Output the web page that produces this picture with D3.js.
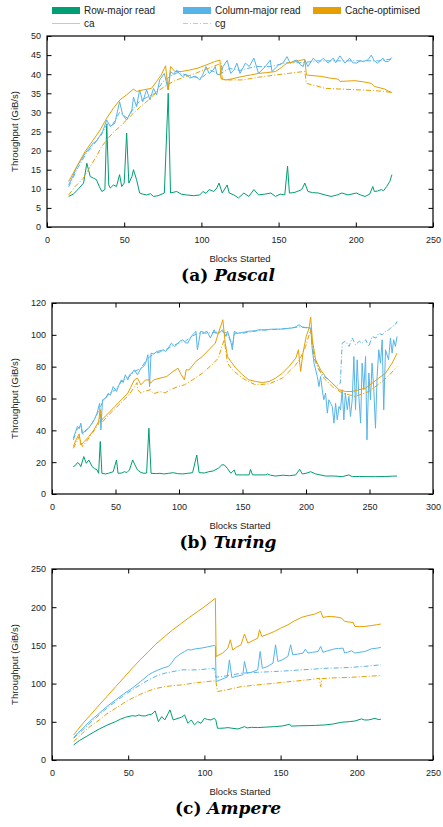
<!DOCTYPE html>
<html>
<head>
<meta charset="utf-8">
<script src="https://cdn.jsdelivr.net/npm/d3@7"></script>
<style>
  body { margin: 0; background: #fff; }
  svg { display: block; }
</style>
</head>
<body>
<script>
// ---- (a) Pascal : [blocks started, GiB/s] ----
const pascalRowCa = [[14,8.0],[17,8.6],[20,9.8],[23.7,11.5],[25.8,16.7],[28,13.2],[30,12.8],[32,12.4],[34,10.5],[35.5,9.3],[37.5,9.8],[38.7,27],[40,11],[41,10.2],[43,11],[45,10.6],[47,13.7],[48.4,10.6],[50,11.5],[51.6,24.6],[53,11.5],[55,13.2],[56,15],[58,12.4],[60,8.9],[62,8.6],[64.5,8.4],[67,8.7],[69,8],[72,8.2],[76,8.9],[78.5,35],[80,8.9],[84,9.3],[87,8.6],[90,8.4],[95,8.2],[99,8.4],[101,9.3],[103,8.8],[105,9.8],[108,9.3],[110,10.2],[111.4,11.5],[113.5,8.9],[116.7,11],[118,8.9],[121,8.4],[124,7.6],[127.5,8.9],[130.7,8],[134,9.8],[137,8.4],[141,8.6],[145,8.9],[148,8],[151,8.6],[154,8.4],[155.8,15.9],[157,8.9],[160,9],[162,9.3],[165,9.8],[167,11.5],[169,9.3],[172,9],[175.7,8.9],[180,8.4],[184,8],[188,8.4],[191,8.9],[195,8.4],[200.4,8.9],[203,8.4],[206,8],[209,8.6],[211,10.6],[212,9.3],[214,9.4],[216.5,9.8],[218,9.5],[220,10.6],[222,11.9],[223.4,13.7]];
const pascalColCa = [[14,11],[17,13.5],[19.4,15.9],[22,17.5],[24.7,19.3],[27,20.5],[30,22],[32,22.5],[34,23.7],[36,25],[38.7,28],[41,26.3],[44,27.2],[47,32.8],[49,29.4],[51.6,28],[55,30.7],[56,34],[58,31.5],[60,35.9],[62,32.8],[64.5,35.9],[66.7,33.3],[69,36.3],[71,34.6],[73,38.5],[76,40.2],[78.5,35.9],[80,40.7],[82,40],[84,41.1],[86,40],[88,39.4],[90,40],[92.5,39],[96,39.5],[99,38.5],[101,40],[103,42],[105,40.2],[107.5,41],[109,42],[110,40],[112.5,39.8],[114,42],[116.7,43.6],[119,40.2],[121,41],[123,42.9],[125,40.2],[128.5,42.9],[131,42],[134,44.2],[137,40.2],[141.4,42],[144.6,43.7],[145.7,40.7],[150,42.4],[153,43],[155.4,44.6],[157.5,42.9],[160,43.5],[162,43.7],[164,42.5],[166,42],[167,43.7],[169,42],[172.5,44.2],[175.7,42.9],[179,44.2],[182,42.9],[185.4,44.2],[187,43],[189.7,44.8],[193,42.9],[196,44.2],[198,43],[200.4,42.9],[203,43.5],[205,43.3],[208,43.8],[210,45],[212,43.5],[214,42.9],[217.6,44.2],[219,43.3],[221,43.3],[223.4,44.4]];
const pascalColCg = [[14,10.5],[20,15.5],[25,19],[30,21.5],[35,24],[39,27],[42,26.5],[47,30],[52,28.5],[56,31],[60,33],[65,34],[70,35],[75,38],[80,39.5],[85,40.5],[92,39.5],[100,39],[106,41],[112,40],[118,41.5],[125,41],[135,42],[145,42],[155,43],[165,43],[175,43.5],[190,43.5],[205,43.5],[215,43.5],[223.4,44]];
const pascalOptCa = [[14,11.9],[19.4,15.9],[24.7,19.8],[30,22.8],[34.4,25.4],[38.7,28.5],[43,31.1],[47.3,33.3],[51.6,34.6],[56,36.1],[58,35.5],[62.4,35.9],[67.7,36.3],[71,38.1],[74,39.8],[76.8,42.2],[78.5,35.9],[80,42],[82.8,40.7],[87,40.7],[92.5,41.1],[97.8,41.6],[103,42.4],[108.6,43.3],[112,43.7],[112.6,38.9],[115.7,38.5],[120,38.8],[126.4,39.4],[132,39.8],[137,40.2],[142,40.4],[148,40.7],[152,41.8],[155.4,42.9],[160,43.2],[164,43.6],[167,43.9],[168,39.8],[173,39.6],[178,39.4],[183,39],[188.6,38.7],[189.7,38.1],[194,38.2],[199.4,38.3],[205,38],[210,37.6],[212,36.8],[215,36.5],[218.7,36.1],[221,35.6],[223.4,35.2]];
const pascalOptCg = [[14,8.4],[18,10.5],[23.6,12.8],[28,15.8],[32,18.5],[35,20.8],[38.7,22.8],[43,24.8],[47.3,26.3],[52,28.2],[56,29.8],[60,31.3],[64.5,32.8],[69,34.5],[73,35.9],[77,37],[81.7,38.1],[86,38.8],[90,39.4],[95,40],[99,40.7],[103,41.3],[107.5,42],[113,42.9],[113.5,38.5],[120,38.5],[126.4,38.5],[137,39.2],[148,39.8],[156.4,40.2],[162,40.5],[167,40.7],[168,37.6],[174,37],[180,36.3],[191,36.1],[201.5,35.9],[212,35.7],[218,35.5],[223.4,35.2]];

// ---- (b) Turing ----
const turingRowCa = [[16.8,17.2],[18.5,18],[20,19.7],[21.5,19],[22.7,17.2],[25,23.5],[27,19.3],[29,21.4],[31.6,17.2],[33.5,16],[35.5,15.1],[36.7,13],[38,33],[39.3,13],[42,12.6],[44.4,13],[48.2,14],[50.8,21.4],[52,13],[55,13.2],[57,14],[59,13.5],[61,15.1],[63.5,21.4],[65.3,18.3],[67.3,15.1],[70,13.5],[72.4,13],[74.5,13.2],[76.3,41.3],[78,13],[82,12.8],[85,13],[88,12.6],[92,13],[95.4,13.4],[99,12.8],[103,12.6],[107,13],[110.7,13.4],[114,24.5],[115.8,13.4],[120,13.2],[123.5,14],[127,14.5],[131,16.2],[133.7,18.3],[135.6,18.3],[138,16.2],[140.8,13],[143.5,15.1],[144.8,12],[150,12],[155.2,12],[156.3,15.5],[157.9,12],[163,12],[168.3,12],[169.6,12.6],[172,11.8],[176,11.3],[182,11.8],[187,11.5],[191.9,12],[195,15.5],[197,12.6],[200,13],[203.7,14],[207.6,12.6],[211,12],[215.4,11.3],[222,11.3],[228.5,10.9],[233.8,12],[236.4,10.9],[242,11],[248,10.9],[254.7,10.9],[262,11],[268,11.2],[271.7,11.3]];
const turingColCa = [[16.8,35],[18.5,39],[20,42.4],[21.5,41],[22.7,44.5],[24,38.2],[27,40.3],[29,41.5],[31.6,44.5],[33.5,47],[35.5,50.8],[37.5,57],[38.5,40.3],[39.8,59.2],[42,60],[44.4,63.4],[46,62],[48.2,67.5],[50.8,64.4],[52.5,68],[54.6,71.7],[56,70],[57.7,74.9],[59.7,71.7],[61,74.9],[63,76],[64.8,78],[67.3,74.9],[70,79],[72,80],[73.7,82.2],[75.5,87.5],[76.8,67.5],[78,88.5],[80,88],[82.7,89.6],[85,90],[87.8,90.6],[89.5,89.5],[91.6,91.7],[94,94.8],[96.7,92.7],[98.5,94],[100.5,95.9],[103,96.9],[105,95],[106.9,94.8],[109,98],[110.7,100],[113.3,102.2],[114.5,90.6],[117,102.2],[120,101.5],[122,102.2],[124.7,98],[127.7,103.2],[128.6,101.1],[131.7,101.1],[134.3,103.2],[137,99],[138.2,102.2],[140.8,95.9],[142,90.6],[143.5,102.2],[146,101],[150,101.5],[155,102.3],[160,102.5],[163,103.2],[168,103],[172,103.5],[176,103.6],[180,103.6],[185,104],[189,104.3],[192,105],[194.5,106.4],[197,104.9],[200,104.6],[203.7,104.3],[205,90.6],[206.3,82.2],[208.9,73.8],[210.2,67.5],[211.5,73.8],[212.8,65.5],[214,59.2],[215.4,63.4],[216.8,50.8],[218,59.2],[219.4,57],[220.7,55],[222,44.5],[223.3,57],[224.6,46.6],[226,55],[227.2,52.9],[228.5,65.5],[229.8,46.6],[231,63.4],[232.5,52.9],[233.8,61.3],[235,48.7],[236.4,59.2],[237.7,86.4],[239,52.9],[240.3,84.3],[241.6,61.3],[243,44.5],[244.2,82.2],[245.5,65.5],[246.9,86.4],[248,34],[249.5,76],[250.8,59.2],[252,82.2],[253.4,65.5],[254.7,41.3],[256,73.8],[257.3,90.6],[258.6,82.2],[260,96.9],[261.2,52.9],[262.6,90.6],[265,84.3],[266.5,98],[267.8,88.5],[269,96.9],[270.4,92.7],[271.7,99]];
const turingColCg = [[16.8,34],[20,41],[22.7,43],[24,37],[28,41],[32,45],[36,51],[40,58],[45,63],[50,65.5],[55,71],[60,73],[65,77],[70,79],[75,85],[80,88],[88,90],[95,93],[100,95],[105,96],[110,99],[115,101],[120,101],[128,101.5],[134,102],[138,101],[142,93],[144,101],[150,101],[165,103],[180,103.5],[195,105],[204,104],[205,90.6],[207,84],[210,78],[214,74],[218,71.7],[223.3,67.5],[227,69.6],[228.5,94.8],[231,96],[234,92.7],[236.4,98],[239,93.8],[242,96],[244,94.8],[247,96.9],[249.5,92.7],[252,99],[255,98],[257.3,101.1],[260,100],[262.6,102.2],[265,103],[267.8,105.3],[270,106],[271.7,108.4]];
const turingOptCa = [[16.8,29.8],[18.9,34],[21.4,37.8],[22.7,30.8],[25.3,32.9],[29,36.1],[33,40.3],[36.7,45.5],[38,52.9],[39.3,46.6],[44.4,50.8],[49.5,55],[54.6,59.2],[59.7,63.4],[62,67],[64.8,71.7],[67.3,72.8],[70,68.6],[73.7,71.7],[76.3,71.7],[77.6,69.6],[80,71.7],[85,72.8],[90.3,73.8],[95.4,77],[99.2,79],[101.8,74.9],[104.3,71.7],[105.6,78],[108,78],[113.3,83.3],[118.4,86.4],[123.5,90.6],[128.6,94.8],[131,101.1],[133.7,107.4],[134.5,109.5],[136.4,94.8],[138.2,86.4],[140.8,83.3],[144.8,79],[150,74.9],[155,71.7],[160.5,70.7],[165.7,70],[171,70.7],[176,72.8],[181.4,75.9],[186.6,80.1],[192,85.4],[194,90.6],[195.8,77],[197.6,88.5],[200.2,99],[202.4,104.3],[203.7,111.2],[205,96.9],[207.6,84.3],[211.5,78],[215.4,73.8],[220.7,69.6],[226,65.5],[231,64.4],[236.4,64.4],[241.6,65.5],[246.9,66.5],[252,69.6],[257.3,72.8],[262.6,75.9],[267.8,82.2],[271.7,88.5]];
const turingOptCg = [[16.8,28.7],[19,32],[21.4,36.1],[24,29.8],[28,34],[32,38.5],[36.7,44],[38,50],[39.5,45],[44.4,49.5],[49.5,53.5],[54.6,57.5],[59.7,61.5],[64.8,67],[67,70],[67.3,65.5],[70,63.5],[72.4,64.4],[77.6,65.5],[80,63],[85,64.4],[89,63.5],[93,65.5],[99.2,67.5],[104.3,68.6],[110.7,71.7],[118.4,75.9],[126,81.2],[131,85.4],[133.5,92],[135.6,96.9],[138.2,82.2],[142,78],[150,72.8],[155,70.5],[160.5,68.6],[171,69.2],[181.4,72.8],[192,81.2],[196,86],[199.7,92.7],[203.7,103.2],[206.3,86.4],[212.8,73.8],[220.7,67.5],[228.5,63.4],[239,61.3],[249.5,64.4],[260,70.7],[266,75],[271.7,80.1]];

// ---- (c) Ampere ----
const ampereRowCa = [[14.2,19.7],[18,25.5],[22.4,30.6],[27,36],[31,40.6],[36,45.5],[41.8,50.3],[45,53.5],[48.3,56],[52.6,58],[55,57.5],[57,59],[59,57.8],[61.2,57.7],[63,59],[65.5,60],[67.7,64.2],[69.8,50.3],[72,56.8],[74,52.4],[76.3,61.2],[77.4,65.6],[79.5,52.4],[82.8,54.6],[85,56],[87,59],[89.2,48],[91.4,52.4],[93.5,46],[95.7,50.3],[97.8,48],[100,54.6],[102,53],[104.3,52.4],[106.5,54.6],[107.5,52],[108.6,41.5],[110,41.5],[113,41.8],[115.4,42.4],[118,41.6],[122,40.6],[124,42],[126.3,43.7],[128,42],[131,42.8],[135,42.4],[140,43],[146,43.7],[151,44.5],[156,46.8],[157,44.3],[162,44.8],[168,45],[173,45.3],[179,45.9],[184,47],[190,49.4],[195,50.2],[198.7,51],[203,53.8],[205,52.4],[207.5,52.4],[210,53.5],[212,54.6],[214,53],[215.8,53.3]];
const ampereColCa = [[14.2,29.3],[17,35.5],[20.3,41.5],[25,51],[31,61.2],[36,70],[41.8,78.7],[47,86.5],[52.6,94],[58,102.5],[63.4,111.5],[66,114.5],[69.8,118],[73,120.5],[76.3,122.4],[78.5,127],[80.6,133.3],[84,138.5],[87,142],[89,144.5],[91.4,144],[94,145.5],[97.8,146.4],[102,148],[106.5,150],[107.2,149],[107.7,102.7],[110,104.5],[113,107],[115,108.5],[116.4,131],[118,108],[121,109.5],[125.2,111.5],[126.3,129],[128,113.6],[131,115],[135,118],[136.6,142],[138,120],[141,122],[145,126.7],[146.7,150.8],[148.2,129],[151,131],[154.8,135.5],[156.6,150.8],[158,137.7],[161,138.5],[164.7,140],[166.2,145],[168,140],[171,141],[174.6,142],[176.3,148.6],[177.8,141],[181,143],[185.5,145.5],[188,146],[191,146.4],[192,140],[194,141],[196.5,143],[198.7,140],[202,141],[205.3,142],[209.6,145.5],[213,146.3],[215.8,147.3]];
const ampereColCg = [[14.2,28.4],[20,39],[25,48.5],[31,59],[36,68],[41.8,76.5],[47,84.5],[52.6,91.8],[58,98.5],[63.4,104.9],[68,109.5],[74,113.6],[80,116],[85,118],[90,118],[95.7,118],[101,119],[106.5,120],[107.5,108.5],[111,109],[117,111],[124,113.6],[135,114.8],[146,115.8],[155,116.8],[163.6,118],[172,119],[179,120],[187,120.5],[194.3,121],[205,122.5],[215.8,124.6]];
const ampereOptCa = [[14.2,32.8],[17,40],[20.3,48],[25,58.5],[31,72],[36,83],[41.8,96],[47,107.5],[52.6,120],[58,131.5],[63.4,142],[68,151.5],[74,161.7],[79,170],[85,179],[90,186.5],[95.7,194.5],[101,202],[106.5,210.7],[107.2,211.5],[107.7,135.5],[112,140],[115.4,146.4],[117,157.3],[118.6,144],[121,147.5],[124,150.8],[126.3,164.8],[128.5,153],[132,156.5],[135,159.5],[136.2,170.5],[137.7,161.7],[142,165],[146,168.3],[150,172.5],[154.8,177],[159,182],[163.6,186.6],[168,189],[172.4,191],[176.3,194.5],[177.8,186.6],[180,187.5],[183.3,188],[187,187],[190,185.8],[192,181.4],[195,180.5],[197.6,180],[198.7,174.8],[202,174.5],[205.3,174.8],[209.6,176],[213,177],[215.8,178]];
const ampereOptCg = [[14.2,24],[20,35],[25,44],[31,52.4],[36,60.5],[41.8,67.7],[47,74.5],[52.6,80.9],[58,86],[63.4,90.5],[68,93.5],[74,96],[80,97.5],[85,98.3],[90,99.8],[95.7,101.4],[101,102.5],[106.5,103.6],[107.5,103.8],[108.6,89.6],[115,92],[124,96],[135,98.3],[146,100.5],[157,102.8],[168,104.9],[175.6,107],[176,98],[176.4,96],[177,106.5],[185,107.5],[194.3,108],[205,109.3],[215.8,110.6]];

const legendNames = ['Row-major read', 'Column-major read', 'Cache-optimised'];
const colors = ['#009e73', '#56b4e9', '#e69f00'];
const dashCg = '5,2,1,2';

const W = 443, H = 827;
const svg = d3.select('body').append('svg')
  .attr('width', W)
  .attr('height', H)
  .style('font-family', '"Liberation Sans", Arial, sans-serif');

// legend
const legendX = [52, 183, 313];
legendNames.forEach((name, i) => {
  svg.append('rect')
    .attr('x', legendX[i]).attr('y', 7)
    .attr('width', 28).attr('height', 7)
    .attr('fill', colors[i]);
  svg.append('text')
    .attr('x', legendX[i] + 32).attr('y', 14)
    .attr('font-size', 10).attr('fill', '#222')
    .text(name);
});
[['ca', null], ['cg', dashCg]].forEach(([name, dash], i) => {
  svg.append('line')
    .attr('x1', legendX[i]).attr('x2', legendX[i] + 28)
    .attr('y1', 23.5).attr('y2', 23.5)
    .attr('stroke', '#c8c8c8').attr('stroke-width', 1)
    .attr('stroke-dasharray', dash);
  svg.append('text')
    .attr('x', legendX[i] + 32).attr('y', 27)
    .attr('font-size', 10).attr('fill', '#222')
    .text(name);
});

const panels = [
  { tag: '(a) ', name: 'Pascal', top: 36, left: 47, xMax: 250, yMax: 50, yStep: 5,
    series: [[pascalRowCa, 0, false], [pascalColCa, 1, false], [pascalColCg, 1, true], [pascalOptCa, 2, false], [pascalOptCg, 2, true]] },
  { tag: '(b) ', name: 'Turing', top: 303, left: 52, xMax: 300, yMax: 120, yStep: 20,
    series: [[turingRowCa, 0, false], [turingColCa, 1, false], [turingColCg, 1, true], [turingOptCa, 2, false], [turingOptCg, 2, true]] },
  { tag: '(c) ', name: 'Ampere', top: 569, left: 52, xMax: 250, yMax: 250, yStep: 50,
    series: [[ampereRowCa, 0, false], [ampereColCa, 1, false], [ampereColCg, 1, true], [ampereOptCa, 2, false], [ampereOptCg, 2, true]] }
];

const plotH = 191, right = 433, tick = 4.5;

panels.forEach((p) => {
  const bottom = p.top + plotH;
  const x = d3.scaleLinear().domain([0, p.xMax]).range([p.left, right]);
  const y = d3.scaleLinear().domain([0, p.yMax]).range([bottom, p.top]);
  const xTicks = d3.range(0, p.xMax + 1, 50);
  const yTicks = d3.range(0, p.yMax + 0.001, p.yStep);

  const g = svg.append('g');

  // axes with inward ticks, mirrored like gnuplot
  const ax = (axis, tr, labels) => {
    const a = g.append('g').attr('transform', tr)
      .call(axis.tickSize(-tick).tickPadding(labels ? 7 : 0).tickFormat(labels ? d3.format('d') : ''));
    a.select('.domain').remove();
    a.selectAll('line').attr('stroke', '#000');
    a.selectAll('text').attr('font-size', 9).attr('fill', '#222')
      .style('font-family', '"Liberation Sans", Arial, sans-serif');
    return a;
  };
  ax(d3.axisBottom(x).tickValues(xTicks), `translate(0,${bottom})`, true)
    .selectAll('text').attr('dy', null).attr('y', 15.5);
  ax(d3.axisTop(x).tickValues(xTicks), `translate(0,${p.top})`, false);
  ax(d3.axisLeft(y).tickValues(yTicks), `translate(${p.left},0)`, true)
    .selectAll('text').attr('x', -6);
  ax(d3.axisRight(y).tickValues(yTicks), `translate(${right},0)`, false);

  g.append('rect')
    .attr('x', p.left).attr('y', p.top)
    .attr('width', right - p.left).attr('height', plotH)
    .attr('fill', 'none').attr('stroke', '#000').attr('stroke-width', 1.2);

  // data lines
  const line = d3.line().x(d => x(d[0])).y(d => y(d[1]));
  p.series.forEach(([data, c, isCg]) => {
    g.append('path')
      .datum(data)
      .attr('d', line)
      .attr('fill', 'none')
      .attr('stroke', colors[c])
      .attr('stroke-width', 1)
      .attr('stroke-linejoin', 'round')
      .attr('stroke-dasharray', isCg ? dashCg : null);
  });

  // axis titles
  g.append('text')
    .attr('transform', `translate(18,${p.top + plotH / 2}) rotate(-90)`)
    .attr('text-anchor', 'middle')
    .attr('font-size', 9.5).attr('fill', '#222')
    .text('Throughput (GiB/s)');
  g.append('text')
    .attr('x', 240).attr('y', bottom + 34.5)
    .attr('text-anchor', 'middle')
    .attr('font-size', 9.5).attr('fill', '#222')
    .text('Blocks Started');

  // caption
  const cap = g.append('text')
    .attr('x', 228).attr('y', bottom + 54)
    .attr('text-anchor', 'middle')
    .attr('font-size', 17)
    .style('font-family', '"DejaVu Serif", serif')
    .attr('font-weight', 'bold')
    .attr('fill', '#000');
  cap.append('tspan').text(p.tag);
  cap.append('tspan').attr('font-style', 'italic').text(p.name);
});
</script>
</body>
</html>
